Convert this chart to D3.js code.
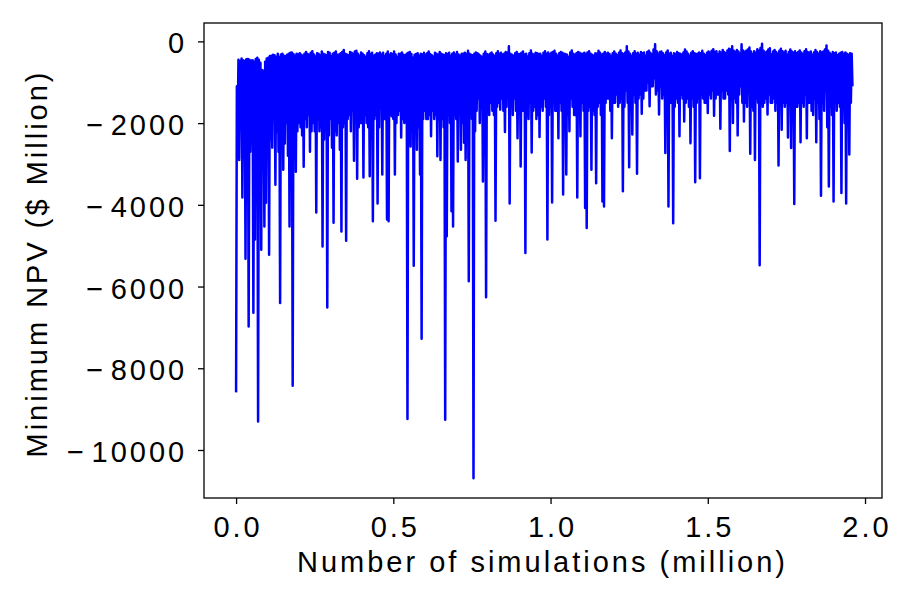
<!DOCTYPE html>
<html><head><meta charset="utf-8">
<script src="https://cdn.jsdelivr.net/npm/d3@7"></script>
<style>body{margin:0;background:#fff;} svg{display:block}</style>
</head><body>
<script>
// Minimum NPV ($ Million), one value every 0.0025 million simulations
const npvValues = [
  -8590,-1100,-2300,-450,-2900,-480,-1800,-420,-3820,-460,-2600,-480,-5320,-440,-3200,-430,-6980,-450,-2700,-470,
  -2500,-460,-6640,-500,-4850,-430,-2200,-400,-9300,-450,-3000,-520,-5100,-700,-2400,-720,-4530,-500,-3950,-420,
  -2100,-400,-5220,-360,-2400,-350,-2600,-330,-1900,-340,-3510,-380,-2200,-300,-2700,-380,-6400,-320,-2300,-300,
  -3140,-350,-2500,-360,-2000,-330,-2800,-300,-4530,-280,-2600,-270,-8430,-310,-2400,-350,-3190,-300,-2200,-320,
  -2000,-290,-2100,-330,-2300,-350,-3070,-300,-1900,-260,-2100,-310,-1800,-330,-2700,-280,-2200,-240,-2000,-320,
  -2200,-370,-4190,-290,-1900,-300,-2200,-340,-2100,-250,-5020,-300,-2400,-320,-2000,-340,-6510,-260,-2300,-280,
  -1900,-360,-2600,-300,-4440,-280,-2200,-250,-2300,-330,-2000,-320,-2650,-290,-4650,-260,-2100,-210,-2000,-300,
  -4880,-320,-1900,-340,-1800,-260,-2200,-280,-1700,-310,-2920,-250,-1800,-230,-3360,-300,-2100,-350,-2000,-270,
  -2000,-300,-3330,-340,-1800,-380,-2000,-290,-2100,-240,-3300,-310,-2200,-280,-4400,-350,-1900,-330,-1800,-290,
  -3970,-300,-2100,-270,-1600,-320,-3260,-280,-1900,-360,-1900,-300,-4360,-250,-4400,-330,-1800,-290,-1830,-310,
  -1900,-250,-3260,-320,-2000,-380,-1800,-300,-1700,-300,-2350,-270,-1900,-330,-2000,-340,-1600,-300,-9240,-280,
  -2200,-260,-2570,-310,-1800,-400,-5490,-330,-2000,-310,-2650,-290,-2100,-350,-3260,-300,-7280,-320,-1900,-280,
  -1700,-330,-1900,-290,-1900,-250,-1800,-310,-2320,-340,-1700,-370,-1900,-280,-1800,-300,-2810,-330,-1900,-260,
  -2900,-300,-1900,-320,-2100,-340,-9260,-290,-4770,-310,-1800,-280,-2000,-350,-4160,-300,-4530,-270,-1800,-320,
  -1900,-260,-2940,-320,-1800,-350,-2650,-300,-2000,-300,-2480,-280,-2900,-310,-1700,-230,-5870,-300,-1800,-330,
  -1900,-340,-10690,-300,-2200,-270,-1700,-290,-1400,-320,-2000,-350,-1600,-380,-3430,-300,-1900,-250,-6260,-310,
  -1700,-330,-1800,-300,-1500,-270,-1700,-320,-1800,-360,-4390,-290,-1600,-240,-1500,-300,-1670,-280,-1400,-320,
  -1700,-300,-2220,-260,-1600,-280,-1200,-120,-3970,-300,-1600,-330,-1800,-350,-1400,-290,-1700,-260,-2370,-310,
  -1600,-310,-3060,-280,-1700,-250,-1700,-320,-5180,-300,-1800,-370,-1900,-290,-1500,-220,-2720,-300,-1700,-330,
  -1600,-280,-1900,-290,-1800,-310,-2340,-300,-1600,-360,-1700,-280,-1400,-240,-1600,-300,-4850,-270,-1800,-320,
  -1600,-280,-3940,-260,-1500,-230,-1700,-300,-1700,-350,-2370,-290,-1500,-260,-1700,-280,-3750,-300,-1600,-310,
  -3260,-330,-1800,-380,-2200,-270,-1400,-220,-1600,-300,-1800,-330,-1800,-290,-3820,-260,-1700,-280,-2320,-300,
  -1500,-300,-1700,-280,-4080,-310,-4570,-270,-1700,-240,-1600,-300,-3140,-330,-1700,-350,-1800,-290,-3470,-300,
  -1600,-230,-1500,-280,-1800,-330,-3920,-300,-4040,-260,-1510,-300,-1400,-280,-1400,-310,-1700,-360,-2370,-290,
  -1500,-250,-1500,-300,-1300,-340,-1600,-280,-1500,-220,-1400,-290,-3670,-310,-1600,-270,-1200,-120,-1500,-250,
  -3080,-300,-1500,-360,-2280,-290,-1300,-240,-1500,-300,-3240,-280,-1400,-330,-1300,-260,-1770,-290,-1400,-270,
  -1200,-350,-1200,-260,-1000,-230,-1590,-280,-1100,-320,-1100,-200,-900,-70,-1300,-240,-1200,-300,-1790,-260,
  -1100,-250,-1400,-290,-1300,-340,-2730,-270,-1400,-220,-4040,-300,-1500,-280,-1500,-360,-4450,-290,-1600,-310,
  -1400,-260,-1500,-290,-2320,-300,-1300,-330,-1400,-270,-1960,-200,-1500,-250,-1400,-300,-1600,-350,-2490,-280,
  -1400,-240,-1600,-290,-3450,-310,-1500,-300,-1400,-270,-3350,-290,-1300,-230,-1400,-300,-1500,-340,-1500,-280,
  -1750,-250,-1300,-280,-1400,-230,-1200,-190,-1820,-260,-1400,-240,-1300,-320,-1300,-250,-2140,-280,-1200,-210,
  -1400,-260,-1400,-290,-1200,-220,-1300,-180,-2680,-200,-1200,-120,-2000,-230,-1400,-260,-1500,-210,-2300,-250,
  -1300,-300,-1100,-70,-1500,-220,-1960,-260,-1500,-230,-1600,-200,-1200,-150,-2750,-250,-1600,-310,-1700,-240,
  -2900,-280,-1400,-190,-1500,-230,-5480,-160,-1100,-60,-1600,-230,-1500,-280,-1400,-250,-1790,-200,-1300,-170,
  -1500,-320,-1500,-250,-1400,-210,-1700,-260,-1500,-300,-3040,-230,-1300,-180,-2160,-240,-1500,-270,-1600,-230,
  -1500,-330,-2350,-260,-1400,-200,-2610,-250,-1800,-280,-3980,-240,-1600,-290,-1600,-260,-1500,-220,-2470,-270,
  -1500,-310,-1600,-240,-1300,-190,-2370,-260,-1500,-280,-1500,-250,-1700,-330,-1800,-270,-1400,-210,-2470,-260,
  -1500,-300,-1900,-240,-3780,-270,-1500,-250,-1700,-200,-1200,-100,-2100,-230,-3550,-280,-1600,-320,-1800,-260,
  -3920,-290,-1500,-270,-1700,-340,-1500,-300,-1600,-280,-3710,-260,-1500,-310,-2000,-270,-3970,-300,-1600,-330,
  -2770,-290,-1500,-300,-1100
];
const xStep = 0.0025; // million simulations between points
const xTicks = [0, 0.5, 1.0, 1.5, 2.0];
const yTicks = [0, -2000, -4000, -6000, -8000, -10000];
const xLabel = "Number of simulations (million)";
const yLabel = "Minimum NPV ($ Million)";

const W = 913, H = 609;
const box = {l: 204, r: 882, t: 23, b: 498};
const FONT = "'Liberation Sans', Arial, sans-serif";
const FS = 29, LS = 3;

const svg = d3.select("body").append("svg").attr("width", W).attr("height", H)
  .style("font-family", FONT);

const x = d3.scaleLinear().domain([-0.102, 2.054]).range([box.l, box.r]);
const y = d3.scaleLinear().domain([-11175, 450]).range([box.b, box.t]);

const data = npvValues.map((v, i) => ({sims: i * xStep, npv: v}));

svg.append("path").datum(data)
  .attr("d", d3.line().x(d => x(d.sims)).y(d => y(d.npv)))
  .attr("fill", "none").attr("stroke", "#0000ff")
  .attr("stroke-width", 2.5).attr("stroke-linejoin", "round");

// axes
const gx = svg.append("g").attr("transform", `translate(0,${box.b})`)
  .call(d3.axisBottom(x).tickValues(xTicks).tickFormat(d3.format(".1f"))
    .tickSize(6).tickPadding(12.7).tickSizeOuter(0));
const gy = svg.append("g").attr("transform", `translate(${box.l},0)`)
  .call(d3.axisLeft(y).tickValues(yTicks).tickFormat(d3.format("d"))
    .tickSize(6).tickPadding(10.8).tickSizeOuter(0));
[gx, gy].forEach(g => {
  g.select(".domain").remove();
  g.selectAll(".tick line").attr("stroke", "#000").attr("stroke-width", 1.3);
  g.selectAll(".tick text").attr("fill", "#000")
    .style("font-size", FS + "px").style("letter-spacing", LS + "px")
    .attr("font-family", FONT);
});
gx.selectAll(".tick text").attr("dx", LS / 2);
// y labels: minus sign set apart from the digits, as in the reference
gy.selectAll(".tick text").attr("dy", "0.4em").each(function(d) {
  const t = d3.select(this);
  const s = t.text();
  t.text(null);
  if (s.startsWith("\u2212")) {
    t.append("tspan").text("\u2212");
    t.append("tspan").attr("dx", 4.5).text(s.slice(1));
  } else {
    t.append("tspan").text(s);
  }
});

svg.append("rect").attr("x", box.l).attr("y", box.t)
  .attr("width", box.r - box.l).attr("height", box.b - box.t)
  .attr("fill", "none").attr("stroke", "#000").attr("stroke-width", 1.3);

svg.append("text").attr("x", (box.l + box.r) / 2 - 2 + LS / 2).attr("y", 572)
  .attr("text-anchor", "middle").style("font-size", FS + "px")
  .style("letter-spacing", LS + "px").attr("fill", "#000").text(xLabel);

svg.append("text").attr("transform", `translate(47,${262 + LS / 2}) rotate(-90)`)
  .attr("text-anchor", "middle").style("font-size", FS + "px")
  .style("letter-spacing", LS + "px").attr("fill", "#000").text(yLabel);
</script>
</body></html>
